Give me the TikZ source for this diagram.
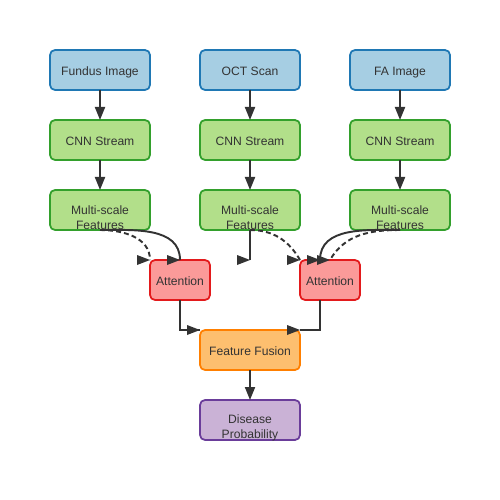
\documentclass[tikz,border=0pt]{standalone}
\usepackage{fontspec}
\setmainfont{Liberation Sans}
\usepackage{xcolor}
\usepackage{tikz}
\usetikzlibrary{arrows.meta, positioning}

\definecolor{inFill}{HTML}{A6CEE3}
\definecolor{inLine}{HTML}{1F78B4}
\definecolor{cnnFill}{HTML}{B2DF8A}
\definecolor{cnnLine}{HTML}{33A02C}
\definecolor{attFill}{HTML}{FB9A99}
\definecolor{attLine}{HTML}{E31A1C}
\definecolor{fuseFill}{HTML}{FDBF6F}
\definecolor{fuseLine}{HTML}{FF7F00}
\definecolor{outFill}{HTML}{CAB2D6}
\definecolor{outLine}{HTML}{6A3D9A}
\definecolor{linec}{HTML}{333333}

% right-pointing arrow head with its tip at #1
\newcommand{\headR}[1]{\fill[linec] (#1) -- ++(-0.26,0.1) -- ++(0,-0.2) -- cycle;}

\begin{document}
\begin{tikzpicture}[
    node distance=0.6cm and 1cm,
    box/.style={rectangle, draw, line width=1pt, outer sep=0pt, minimum width=2cm, minimum height=0.8cm, inner sep=0pt, rounded corners=0.1cm, align=center, text=linec, font=\fontsize{6.9}{8.5}\selectfont, text height=1.5ex, text depth=0.4ex},
    input/.style={box, fill=inFill, draw=inLine},
    cnn/.style={box, fill=cnnFill, draw=cnnLine},
    attn/.style={box, fill=attFill, draw=attLine, minimum width=1.2cm},
    fuse/.style={box, fill=fuseFill, draw=fuseLine},
    result/.style={box, fill=outFill, draw=outLine},
    lowtext/.style={align=center, text=linec, font=\fontsize{6.9}{8.5}\selectfont, yshift=-0.15cm},
    arrow/.style={-{Triangle[length=0.26cm, width=0.2cm]}, line width=1.1pt, draw=linec, fill=linec},
    link/.style={line width=1.1pt, draw=linec},
    dashlink/.style={link, dash pattern=on 2.8pt off 1.8pt}
]
\useasboundingbox (0,0) rectangle (10,-10);

% Layer 1: Inputs
\node[input] (fundus) at (2,-1.4) {Fundus Image};
\node[input, right=of fundus] (oct) {OCT Scan};
\node[input, right=of oct] (fa) {FA Image};

% Layer 2: CNN streams
\node[cnn, below=of fundus] (cnn1) {CNN Stream};
\node[cnn, below=of oct] (cnn2) {CNN Stream};
\node[cnn, below=of fa] (cnn3) {CNN Stream};

% Layer 3: Features
\node[cnn, below=of cnn1, label={[lowtext]center:{Multi-scale\\Features}}] (msf1) {};
\node[cnn, below=of cnn2, label={[lowtext]center:{Multi-scale\\Features}}] (msf2) {};
\node[cnn, below=of cnn3, label={[lowtext]center:{Multi-scale\\Features}}] (msf3) {};

% Layer 4: Attention
\node[attn, below=0.6cm of msf1, xshift=1.6cm] (att1) {Attention};
\node[attn, below=0.6cm of msf2, xshift=1.6cm] (att2) {Attention};
\coordinate (m2end) at ([yshift=-0.6cm]msf2.south);

% Layer 5: Fusion and output
\node[fuse, below=2cm of msf2] (fusion) {Feature Fusion};
\node[result, below=of fusion, label={[lowtext]center:{Disease\\Probability}}] (disease) {};

% Arrows
\draw[arrow] (fundus) -- (cnn1);
\draw[arrow] (oct) -- (cnn2);
\draw[arrow] (fa) -- (cnn3);
\draw[arrow] (cnn1) -- (msf1);
\draw[arrow] (cnn2) -- (msf2);
\draw[arrow] (cnn3) -- (msf3);

\draw[link] (msf1.south) to[out=0, in=90] (att1.north);
\draw[dashlink] (msf1.south) to[out=0, in=90] (att1.north west);
\draw[link] (msf2.south) -- (m2end);
\draw[dashlink] (msf2.south) to[out=0, in=120] (att2.north west);
\draw[link] (msf3.south) to[out=180, in=90] ([xshift=-0.2cm]att2.north);
\draw[dashlink] (msf3.south) to[out=180, in=60] (att2.north);
\headR{att1.north}
\headR{att1.north west}
\headR{m2end}
\headR{att2.north west}
\headR{[xshift=-0.2cm]att2.north}
\headR{att2.north}

\draw[link] (att1.south) |- (fusion.north west);
\draw[link] ([xshift=-0.2cm]att2.south) |- (fusion.north east);
\headR{fusion.north west}
\headR{fusion.north east}

\draw[arrow] (fusion) -- (disease);

\end{tikzpicture}
\end{document}
